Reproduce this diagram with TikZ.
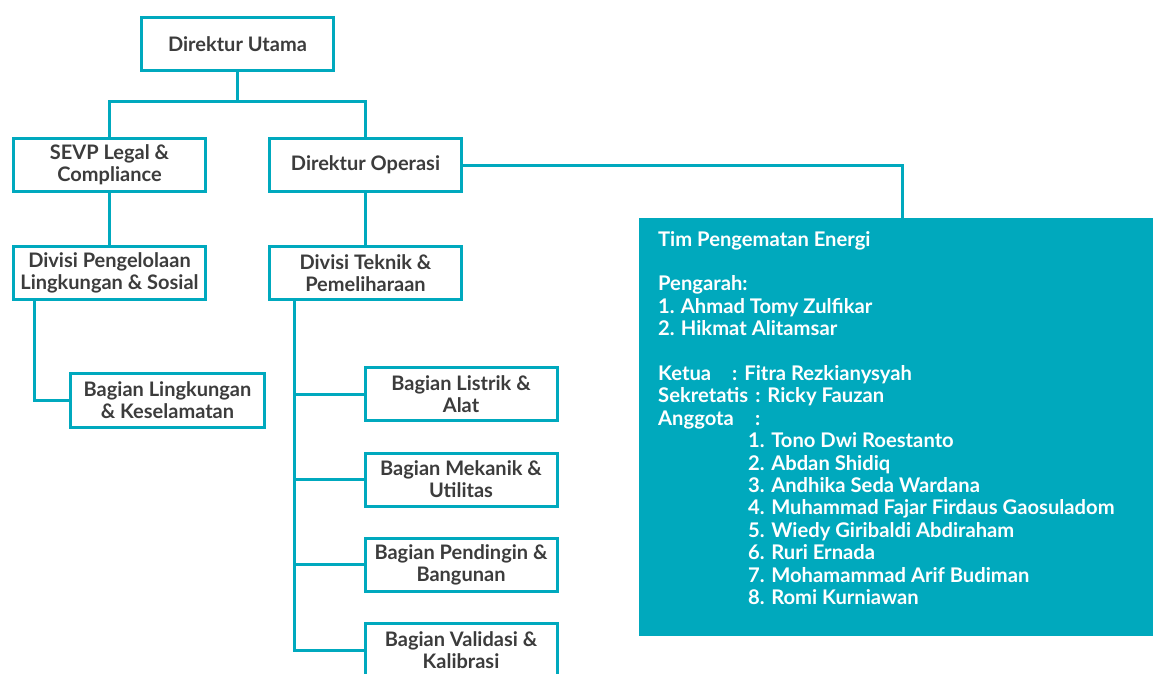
\documentclass[tikz,border=0pt]{standalone}
\usepackage{fontspec}
\setmainfont{Lato}
\usetikzlibrary{calc}
\definecolor{orgteal}{HTML}{00A9BE}
\definecolor{panelteal}{HTML}{00A9BD}
\definecolor{txtgray}{HTML}{3C3C3C}
\begin{document}
\begin{tikzpicture}[x=1pt,y=-1pt,
  box/.style={draw=orgteal, line width=3pt, fill=white, minimum width=192pt, minimum height=53pt,
    inner sep=1pt, align=center, text=txtgray, font=\fontsize{20}{22}\selectfont\bfseries},
  link/.style={draw=orgteal, line width=3pt},
  panel/.style={fill=panelteal, draw=none, minimum width=514pt, minimum height=418pt, inner sep=0pt},
  paneltext/.style={text=white, align=left, inner sep=0pt, font=\fontsize{20.2}{22.4}\selectfont\bfseries}]
\useasboundingbox (0,0) rectangle (1153,674);
\node[box] (du) at (237.5,44) {Direktur Utama};
\node[box] (sevp) at (109.5,165) {SEVP Legal \&\\Compliance};
\node[box] (dirop) at (365.5,165) {Direktur Operasi};
\node[box] (divpeng) at (109.5,273) {Divisi Pengelolaan\\Lingkungan \& Sosial};
\node[box] (divtek) at (365.5,273) {Divisi Teknik \&\\Pemeliharaan};
\node[box, minimum width=194pt, minimum height=54pt] (bagling) at (167.5,400.5) {Bagian Lingkungan\\\& Keselamatan};
\node[box] (baglis) at (461,394) {Bagian Listrik \&\\Alat};
\node[box] (bagmek) at (461,479.5) {Bagian Mekanik \&\\Utilitas};
\node[box] (bagpen) at (461,564.5) {Bagian Pendingin \&\\Bangunan};
\node[box] (bagval) at (461,650) {Bagian Validasi \&\\Kalibrasi};
\node[panel, anchor=north west] (tim) at (639,218) {};
\node[paneltext, anchor=north west] (timtext) at (658,231) {%
Tim Pengematan Energi\\[22.4pt]
Pengarah:\\
\makebox[22.7pt][l]{1.}Ahmad Tomy Zulfikar\\
\makebox[22.7pt][l]{2.}Hikmat Alitamsar\\[22.4pt]
\makebox[74pt][l]{Ketua}:\hspace{7pt}Fitra Rezkianysyah\\
\makebox[97pt][l]{Sekretatis}:\hspace{7pt}Ricky Fauzan\\
\makebox[97pt][l]{Anggota}:\\
\hspace*{90pt}1. Tono Dwi Roestanto\\
\hspace*{90pt}2. Abdan Shidiq\\
\hspace*{90pt}3. Andhika Seda Wardana\\
\hspace*{90pt}4. Muhammad Fajar Firdaus Gaosuladom\\
\hspace*{90pt}5. Wiedy Giribaldi Abdiraham\\
\hspace*{90pt}6. Ruri Ernada\\
\hspace*{90pt}7. Mohamammad Arif Budiman\\
\hspace*{90pt}8. Romi Kurniawan};
\coordinate (j1) at (237.5,102);
\coordinate (pc) at (902,218);
\coordinate (lx) at (34,0);
\coordinate (sx) at (294,0);
\draw[link] (du.south) -- (j1);
\draw[link] (sevp.north) |- (j1) -| (dirop.north);
\draw[link] (sevp.south) -- (divpeng.north);
\draw[link] (dirop.south) -- (divtek.north);
\draw[link] (dirop.east) -| (pc);
\draw[link] (lx |- divpeng.south) |- (bagling.west);
\draw[link] (sx |- divtek.south) |- (bagval.west);
\foreach \b in {baglis,bagmek,bagpen} \draw[link] (sx |- \b.west) -- (\b.west);
\end{tikzpicture}
\end{document}
